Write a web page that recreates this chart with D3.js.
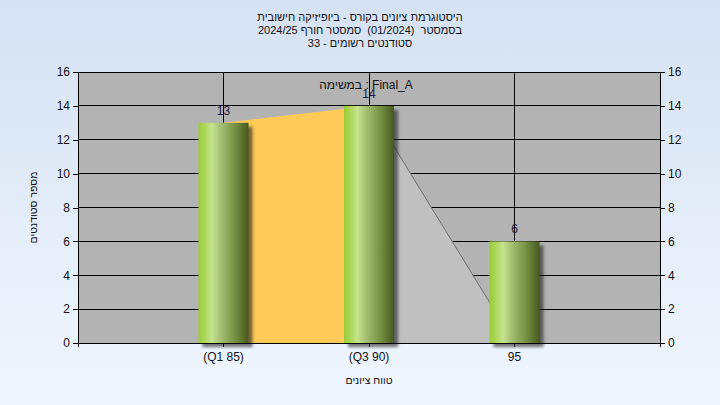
<!DOCTYPE html>
<html>
<head>
<meta charset="utf-8">
<script src="https://cdn.jsdelivr.net/npm/d3@7"></script>
<style>
  html, body { margin: 0; padding: 0; }
  svg { display: block; font-family: "Liberation Sans", Arial, sans-serif; }
</style>
</head>
<body>
<svg id="chart" width="720" height="405"></svg>
<script>
// ---- data ----
const titleLines = [
  "היסטוגרמת ציונים בקורס - ביופיזיקה חישובית",
  "בסמסטר  (01/2024)  סמסטר חורף 2024/25",
  "סטודנטים רשומים - 33"
];
const categories = ["(Q1 85)", "(Q3 90)", "95"];
const counts = [13, 14, 6];
const areaValues = [13, 14, 0];
const yTicks = [0, 2, 4, 6, 8, 10, 12, 14, 16];
const seriesLabel = ["במשימה", ":", "Final_A"]; // visual order, left to right
const xTitle = "טווח ציונים";
const yTitle = "מספר סטודנטים";

const W = 720, H = 405;
const m = { left: 78, right: 660, top: 72, bottom: 343 };
const svg = d3.select("#chart");
const defs = svg.append("defs");

// words laid out left-to-right, each as its own text, group centred at (cx, baseline)
function wordLine(parent, words, cxp, base, size) {
  const g = parent.append("g");
  const gap = size * 0.28;
  let pos = 0;
  words.forEach(w => {
    const t = g.append("text").attr("y", 0).attr("font-size", size)
      .attr("fill", "#111").attr("text-anchor", "middle").text(w);
    const wd = t.node().getComputedTextLength();
    t.attr("x", pos + wd / 2);
    pos += wd + gap;
  });
  pos -= gap;
  g.attr("transform", `translate(${cxp - pos / 2},${base})`);
  return g;
}
function rtlText(parent, str, size) {
  return parent.append("text").attr("direction", "rtl").style("unicode-bidi", "embed")
    .style("white-space", "pre")
    .attr("text-anchor", "middle").attr("font-size", size).attr("fill", "#111").text(str);
}

// background gradient
const bg = defs.append("linearGradient").attr("id", "bg").attr("x1", 0).attr("y1", 0).attr("x2", 0).attr("y2", 1);
bg.append("stop").attr("offset", "0%").attr("stop-color", "#d5e2f3");
bg.append("stop").attr("offset", "100%").attr("stop-color", "#f0f6fe");
svg.append("rect").attr("width", W).attr("height", H).attr("fill", "url(#bg)");

// bar gradient
const bgr = defs.append("linearGradient").attr("id", "barGrad").attr("x1", 0).attr("y1", 0).attr("x2", 1).attr("y2", 0);
[["0%", "#98cb38"], ["10%", "#a9d452"], ["27%", "#c6e38e"], ["45%", "#a3bd72"], ["70%", "#7c9648"], ["100%", "#46591e"]]
  .forEach(([o, c]) => bgr.append("stop").attr("offset", o).attr("stop-color", c));

const blur = defs.append("filter").attr("id", "shadow").attr("x", "-20%").attr("y", "-20%").attr("width", "140%").attr("height", "140%");
blur.append("feGaussianBlur").attr("stdDeviation", 1.6);

// scales
const x = d3.scaleBand().domain(categories).range([m.left, m.right]).paddingInner(0).paddingOuter(0.5);
const cx = c => x(c) + x.bandwidth() / 2;
const y = d3.scaleLinear().domain([0, 16]).range([m.bottom, m.top]);

// plot background
svg.append("rect").attr("x", m.left).attr("y", m.top).attr("width", m.right - m.left).attr("height", m.bottom - m.top).attr("fill", "#b3b3b3");

// gridlines
const grid = svg.append("g").attr("stroke", "#000").attr("stroke-width", 1).attr("shape-rendering", "crispEdges");
yTicks.forEach(t => grid.append("line").attr("x1", m.left).attr("x2", m.right).attr("y1", y(t)).attr("y2", y(t)));
categories.forEach(c => grid.append("line").attr("x1", cx(c)).attr("x2", cx(c)).attr("y1", m.top).attr("y2", m.bottom));

// areas (segments)
const pts = categories.map((c, i) => [cx(c), y(areaValues[i])]);
const area = d3.area().x(d => d[0]).y0(y(0)).y1(d => d[1]);
svg.append("path").datum([pts[0], pts[1]]).attr("d", area).attr("fill", "#fecb59");
svg.append("path").datum([pts[1], pts[2]]).attr("d", area).attr("fill", "#c0c0c0");
svg.append("path").datum([pts[1], pts[2]]).attr("d", d3.line()).attr("fill", "none").attr("stroke", "#6e6e6e").attr("stroke-width", 1);

// bars
const barW = 50;
const bars = svg.append("g");
bars.selectAll("rect.sh").data(categories).join("rect").attr("class", "sh")
  .attr("x", c => cx(c) - barW / 2 + 4).attr("y", (c, i) => y(counts[i]) + 4)
  .attr("width", barW).attr("height", (c, i) => y(0) - y(counts[i]))
  .attr("fill", "#1a1a1a").attr("opacity", 0.6).attr("filter", "url(#shadow)");
bars.selectAll("rect.bar").data(categories).join("rect").attr("class", "bar")
  .attr("x", c => cx(c) - barW / 2).attr("y", (c, i) => y(counts[i]))
  .attr("width", barW).attr("height", (c, i) => y(0) - y(counts[i]))
  .attr("fill", "url(#barGrad)");

// value labels
svg.append("g").selectAll("text").data(categories).join("text")
  .attr("x", c => cx(c)).attr("y", (c, i) => y(counts[i]) - 8)
  .attr("text-anchor", "middle").attr("font-size", 12).attr("fill", "#1a1a40")
  .text((c, i) => counts[i]);

// axes
const fmt = d3.format("d");
const yl = svg.append("g").attr("transform", `translate(${m.left},0)`)
  .call(d3.axisLeft(y).tickValues(yTicks).tickFormat(fmt).tickSize(5).tickSizeOuter(0));
const yr = svg.append("g").attr("transform", `translate(${m.right},0)`)
  .call(d3.axisRight(y).tickValues(yTicks).tickFormat(fmt).tickSize(5).tickSizeOuter(0));
const xb = svg.append("g").attr("transform", `translate(0,${m.bottom})`)
  .call(d3.axisBottom(x).tickSize(4).tickSizeOuter(0));
[yl, yr, xb].forEach(g => {
  g.selectAll("path").attr("stroke", "#000").attr("shape-rendering", "crispEdges");
  g.selectAll("line").attr("stroke", "#000").attr("shape-rendering", "crispEdges");
  g.selectAll("text").attr("font-size", 12).attr("fill", "#111").attr("font-family", "'Liberation Sans', Arial, sans-serif");
});
yl.selectAll(".tick text").attr("x", -8);
yr.selectAll(".tick text").attr("x", 8);
xb.selectAll(".tick text").attr("y", 9);
// extend axis lines slightly below zero
[m.left, m.right].forEach(xx => svg.append("line").attr("x1", xx).attr("x2", xx).attr("y1", m.bottom).attr("y2", m.bottom + 4)
  .attr("stroke", "#000").attr("shape-rendering", "crispEdges"));
// top border
svg.append("line").attr("x1", m.left).attr("x2", m.right).attr("y1", m.top).attr("y2", m.top).attr("stroke", "#000").attr("shape-rendering", "crispEdges");

// titles
titleLines.forEach((s, i) => rtlText(svg, s, 11).attr("x", 360).attr("y", 21 + i * 13));
wordLine(svg, seriesLabel, 366, 89, 12);
rtlText(svg, xTitle, 10.5).attr("x", 369).attr("y", 384);
rtlText(svg, yTitle, 10.5).attr("transform", `translate(37,${(m.top + m.bottom) / 2}) rotate(-90)`);
</script>
</body>
</html>
